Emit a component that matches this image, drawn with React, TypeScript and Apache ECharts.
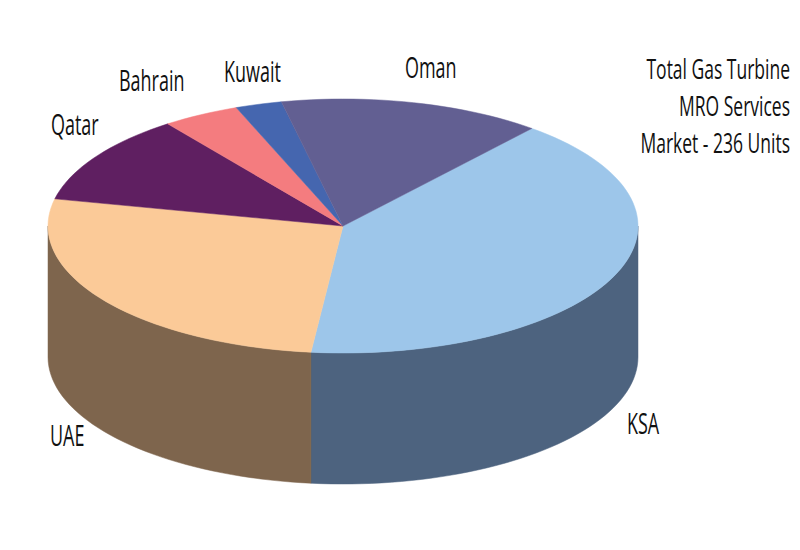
import React, { useEffect, useRef } from "react";
import * as echarts from "echarts";

const categories = ["KSA", "UAE", "Qatar", "Bahrain", "Kuwait", "Oman"];
const units = [96, 63, 27, 10, 6, 34];
const topColors = ["#9DC6EA", "#FBCA98", "#5F1F61", "#F47C7F", "#4566AF", "#625F92"];
const wallColors = ["#4D637F", "#7E654D", "#3d143e", "#9c4f51", "#2c4170", "#3f3d5e"];
const titleLines = ["Total Gas Turbine", "MRO Services", "Market - 236 Units"];
const labelPositions = [
  [627, 423],
  [50, 435],
  [51, 124],
  [119, 80],
  [224, 71],
  [405, 67],
];

const CX = 343;
const CY = 226;
const RX = 295;
const RY = 127;
const DEPTH = 131;
const TOP_CLIP = 99;
const START = 50.2;
const total = units.reduce((a, b) => a + b, 0);

const pt = (deg: number, dy = 0): number[] => {
  const r = (deg * Math.PI) / 180;
  return [CX + RX * Math.cos(r), Math.max(CY - RY * Math.sin(r), TOP_CLIP) + dy];
};

const range = (i: number): number[] => {
  const before = units.slice(0, i).reduce((a, b) => a + b, 0);
  const a0 = START - (before / total) * 360;
  return [a0, a0 - (units[i] / total) * 360];
};

const arc = (a0: number, a1: number, dy = 0): number[][] => {
  const n = Math.max(2, Math.ceil(Math.abs(a1 - a0) / 2));
  const pts: number[][] = [];
  for (let k = 0; k <= n; k++) pts.push(pt(a0 + ((a1 - a0) * k) / n, dy));
  return pts;
};

const renderTop = (params: any) => {
  const i = params.dataIndex;
  const [a0, a1] = range(i);
  return {
    type: "polygon",
    shape: { points: [[CX, CY], ...arc(a0, a1)] },
    style: { fill: topColors[i], stroke: topColors[i], lineWidth: 0.5 },
  };
};

const renderWall = (params: any) => {
  const i = params.dataIndex;
  const [a0, a1] = range(i);
  const from = Math.min(a0, 0);
  const to = Math.max(a1, -180);
  if (from <= to) return { type: "group", children: [] };
  return {
    type: "polygon",
    shape: { points: [...arc(from, to), ...arc(to, from, DEPTH)] },
    style: { fill: wallColors[i], stroke: wallColors[i], lineWidth: 0.5 },
  };
};

export default function App() {
  const ref = useRef<HTMLDivElement>(null);
  useEffect(() => {
    const chart = echarts.init(ref.current!, null, { renderer: "svg" });
    const font = "'Open Sans', sans-serif";
    chart.setOption({
      animation: false,
      backgroundColor: "#ffffff",
      series: [
        {
          type: "custom",
          coordinateSystem: "none",
          renderItem: renderWall,
          data: units,
          z: 1,
          silent: true,
        },
        {
          type: "custom",
          coordinateSystem: "none",
          renderItem: renderTop,
          data: units,
          z: 2,
          silent: true,
        },
      ],
      graphic: [
        ...categories.map((c, i) => ({
          type: "text",
          x: labelPositions[i][0],
          y: labelPositions[i][1],
          scaleX: 0.62,
          z: 5,
          style: {
            text: c,
            fill: "#111111",
            font: `29px ${font}`,
            textAlign: "left",
            textVerticalAlign: "middle",
          },
        })),
        ...titleLines.map((t, i) => ({
          type: "text",
          x: 790,
          y: 68 + i * 37,
          scaleX: 0.625,
          z: 5,
          style: {
            text: t,
            fill: "#111111",
            font: `28px ${font}`,
            textAlign: "right",
            textVerticalAlign: "middle",
          },
        })),
      ],
    });
    return () => chart.dispose();
  }, []);
  return (
    <div
      ref={ref}
      style={{ position: "fixed", left: 0, top: 0, width: 800, height: 550 }}
    />
  );
}
